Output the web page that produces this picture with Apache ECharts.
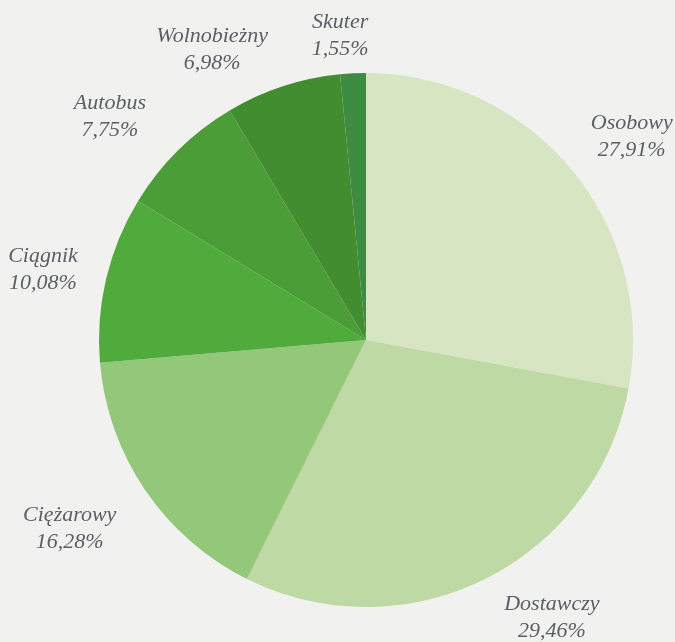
<!DOCTYPE html>
<html>
<head>
<meta charset="utf-8">
<script src="https://cdn.jsdelivr.net/npm/echarts@6/dist/echarts.min.js"></script>
<style>
html,body{margin:0;padding:0;background:#f1f1ef;}
#c{width:675px;height:642px;}
</style>
</head>
<body>
<div id="c"></div>
<script>
const categories = ['Osobowy', 'Dostawczy', 'Ciężarowy', 'Ciągnik', 'Autobus', 'Wolnobieżny', 'Skuter'];
const shares = [27.91, 29.46, 16.28, 10.08, 7.75, 6.98, 1.55];
const sliceColors = ['#d8e5c3', '#bfd9a4', '#93c77a', '#51aa3c', '#4b9d37', '#418d30', '#3f8b42'];

const chart = echarts.init(document.getElementById('c'));
chart.setOption({
  backgroundColor: '#f1f1ef',
  animation: false,
  series: [{
    type: 'pie',
    center: [366, 340],
    radius: 267,
    startAngle: 90,
    clockwise: true,
    avoidLabelOverlap: false,
    data: categories.map((n, i) => ({ name: n, value: shares[i], itemStyle: { color: sliceColors[i] } })),
    label: {
      show: true,
      position: 'outside',
      formatter: p => p.name + '\n' + p.value.toFixed(2).replace('.', ',') + '%',
      fontFamily: 'Liberation Serif',
      fontStyle: 'italic',
      fontSize: 22,
      lineHeight: 27,
      color: '#5a5f66'
    },
    labelLine: { show: true, length: 10, length2: 0, lineStyle: { width: 0, opacity: 0 } },
    labelLayout: function (p) {
      const pts = p.labelLinePoints;
      if (!pts) return {};
      let dx = pts[1][0] - pts[0][0], dy = pts[1][1] - pts[0][1];
      const len = Math.hypot(dx, dy) || 1;
      dx /= len; dy /= len;
      const w = p.labelRect.width, h = p.labelRect.height;
      // small hand nudges (relative to the computed spot) to follow the reference's label placement
      const nudge = { 0: [6, -6], 1: [32, 2], 2: [-12, 16], 4: [-22, -4], 5: [-44, 2], 6: [-10, 3] }[p.dataIndex] || [0, 0];
      return {
        x: pts[0][0] + dx * (30 + w / 2) + nudge[0],
        y: pts[0][1] + dy * (14 + h / 2) + nudge[1],
        align: 'center', verticalAlign: 'middle', hideOverlap: false
      };
    }
  }]
});
</script>
</body>
</html>
